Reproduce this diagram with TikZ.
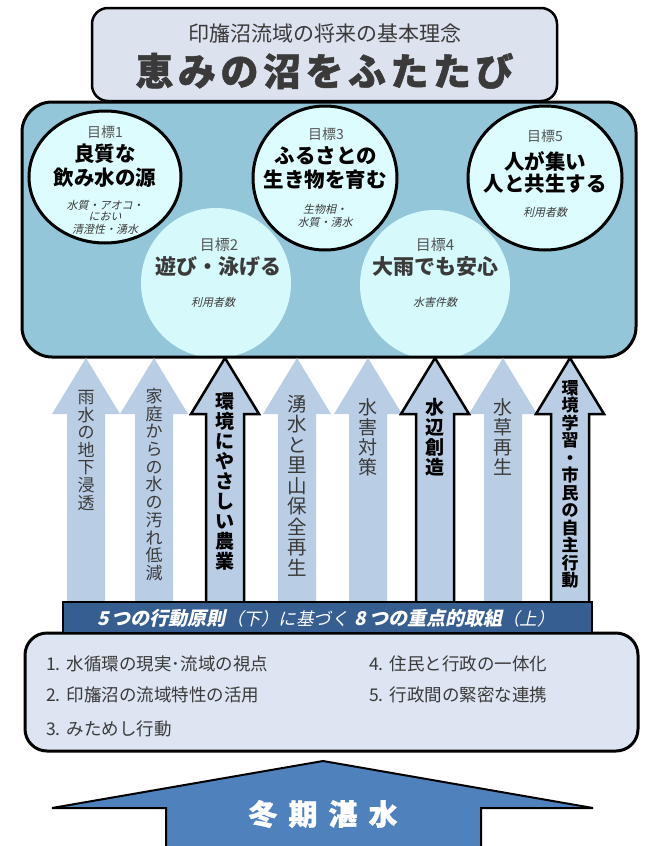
\documentclass[tikz,border=0pt]{standalone}
\usepackage{fontspec}
\setmainfont{Noto Sans CJK JP}
\newfontfamily\jpit[FakeSlant=0.22]{Noto Sans CJK JP}
\newfontfamily\jpheavy[FakeBold=1.2]{Noto Sans CJK JP}
\usetikzlibrary{shapes.geometric}
\definecolor{topfill}{HTML}{DCE3EE}
\definecolor{mainfill}{HTML}{93C6D8}
\definecolor{softcirc}{HTML}{D6FAFC}
\definecolor{goalfill}{HTML}{DDFCFE}
\definecolor{arrfill}{HTML}{B9CDE5}
\definecolor{boxfill}{HTML}{DCE5F1}
\definecolor{barblue}{HTML}{365E91}
\definecolor{arrblue}{HTML}{4F81BD}
\definecolor{darkgray}{HTML}{3A3A3A}
\definecolor{midgray}{HTML}{555555}
\tikzset{
  goalcirc/.style={draw=black, line width=3pt, fill=goalfill},
  lbl/.style={inner sep=0pt, text=midgray, font=\fontsize{14}{16}\selectfont},
  goalbig/.style={inner sep=0pt, text=black, font=\bfseries\fontsize{20.5}{22}\selectfont},
  goalsoft/.style={inner sep=0pt, text=darkgray, font=\bfseries\fontsize{21}{22}\selectfont},
  small/.style={inner sep=0pt, text=darkgray, font=\jpit\fontsize{11}{12}\selectfont},
  vtsoft/.style={anchor=north, align=center, inner sep=0pt, text=darkgray},
  vtbold/.style={anchor=north, align=center, inner sep=0pt, text=black},
  listtxt/.style={anchor=west, inner sep=0pt, text=darkgray, font=\fontsize{17.5}{19}\selectfont},
  paleArrow/.style={fill=arrfill},
  lineArrow/.style={fill=arrfill, draw=black, line width=2.5pt, line join=miter}
}
\begin{document}
\begin{tikzpicture}[x=1pt,y=-1pt]
\useasboundingbox (0,0) rectangle (648,846);
\fill[white] (0,0) rectangle (648,846);

% ---------- main goal box ----------
\fill[mainfill, rounded corners=30pt] (22,102) rectangle (636,357);
\begin{scope}
  \clip[rounded corners=30pt] (22,102) rectangle (636,357);
  \fill[softcirc] (216,283) circle[radius=75pt];
  \fill[softcirc] (435,285) circle[radius=75pt];
\end{scope}
\draw[line width=3pt, rounded corners=30pt] (22,102) rectangle (636,357);

\draw[goalcirc] (105,177) ellipse[x radius=76pt, y radius=66pt];
\draw[goalcirc] (325,178) circle[radius=72pt];
\draw[goalcirc] (545,178) ellipse[x radius=77pt, y radius=72pt];

% ---------- top box ----------
\draw[line width=2.5pt, fill=topfill, rounded corners=16pt] (92,8) rectangle (557,101);
\node[inner sep=0pt, text=darkgray, font=\fontsize{21}{24}\selectfont] (sub) at (324.5,34) {印旛沼流域の将来の基本理念};
\node[inner sep=0pt, text=darkgray, font=\jpheavy\bfseries\fontsize{38}{40}\selectfont] (title) at (324.5,71)
  {恵\kern4.5pt み\kern4.5pt の\kern4.5pt 沼\kern4.5pt を\kern4.5pt ふ\kern4.5pt た\kern4.5pt た\kern4.5pt び};

% ---------- goal texts ----------
\node[lbl] (g1a) at (105,132) {目標1};
\node[goalbig] (g1b) at (105,154) {良質な};
\node[goalbig] (g1c) at (105,178) {飲み水の源};
\node[small] (g1d) at (105,205) {水質・アオコ・};
\node[small] (g1e) at (105,216.5) {におい};
\node[small] (g1f) at (105,229) {清澄性・湧水};

\node[lbl] (g3a) at (326,134) {目標3};
\node[goalbig] (g3b) at (326,156) {ふるさとの};
\node[goalbig] (g3c) at (325,180) {生き物を育む};
\node[small] (g3d) at (325,209) {生物相・};
\node[small] (g3e) at (325,222) {水質・湧水};

\node[lbl] (g5a) at (545,136) {目標5};
\node[goalbig] (g5b) at (545,161) {人が集い};
\node[goalbig] (g5c) at (545,184) {人と共生する};
\node[small] (g5d) at (545,212) {利用者数};

\node[lbl, font=\fontsize{15}{17}\selectfont] (g2a) at (219,245) {目標2};
\node[goalsoft] (g2b) at (218,267) {遊び・泳げる};
\node[small] (g2c) at (213,302) {利用者数};

\node[lbl, font=\fontsize{15}{17}\selectfont] (g4a) at (435,245) {目標4};
\node[goalsoft] (g4b) at (435,267) {大雨でも安心};
\node[small] (g4c) at (435,302) {水害件数};

% ---------- upward arrows ----------
\foreach \x in {86,154,297,368,503}
  \fill[paleArrow] (\x,358) -- (\x+34,414) -- (\x+19,414) -- (\x+19,612) -- (\x-19,612) -- (\x-19,414) -- (\x-34,414) -- cycle;
\foreach \x in {225,435,570}
  \draw[lineArrow] (\x,358) -- (\x+34,414) -- (\x+19,414) -- (\x+19,612) -- (\x-19,612) -- (\x-19,414) -- (\x-34,414) -- cycle;

\node[vtsoft, font=\fontsize{17}{17.6}\selectfont] (a1) at (86,390) {雨\\水\\の\\地\\下\\浸\\透};
\node[vtsoft, font=\fontsize{17}{17.7}\selectfont] (a2) at (154,388) {家\\庭\\か\\ら\\の\\水\\の\\汚\\れ\\低\\減};
\node[vtbold, font=\bfseries\fontsize{19}{20}\selectfont] (a3) at (225,393) {環\\境\\に\\や\\さ\\し\\い\\農\\業};
\node[vtsoft, font=\fontsize{19.5}{20.5}\selectfont] (a4) at (297,395) {湧\\水\\と\\里\\山\\保\\全\\再\\生};
\node[vtsoft, font=\fontsize{19}{20}\selectfont] (a5) at (368,398) {水\\害\\対\\策};
\node[vtbold, font=\bfseries\fontsize{19}{20}\selectfont] (a6) at (435,398) {水\\辺\\創\\造};
\node[vtsoft, font=\fontsize{19}{20}\selectfont] (a7) at (503,398) {水\\草\\再\\生};
\node[vtbold, font=\bfseries\fontsize{17}{17.5}\selectfont] (a8) at (570,380) {環\\境\\学\\習\\・\\市\\民\\の\\自\\主\\行\\動};

% ---------- principles box ----------
\draw[line width=3pt, fill=boxfill, rounded corners=22pt] (25,633) rectangle (638,751);
\draw[line width=1.5pt, fill=barblue] (63,602) rectangle (592,633);
\node[inner sep=0pt, text=white, font=\jpit\fontsize{17.5}{19}\selectfont] (bar) at (326,618)
  {{\bfseries\fontsize{19}{20}\selectfont 5\kern3pt つの行動原則}（下）に基づく\kern6pt{\bfseries\fontsize{19}{20}\selectfont 8\kern3pt つの重点的取組}（上）};

\node[listtxt] (p1) at (46,664) {1.\kern6pt 水循環の現実･流域の視点};
\node[listtxt] (p2) at (46,695) {2.\kern6pt 印旛沼の流域特性の活用};
\node[listtxt] (p3) at (46,729) {3.\kern6pt みためし行動};
\node[listtxt] (p4) at (369,664) {4.\kern6pt 住民と行政の一体化};
\node[listtxt] (p5) at (369,695) {5.\kern6pt 行政間の緊密な連携};

% ---------- bottom arrow ----------
\draw[fill=arrblue, line width=2pt, line join=miter] (323,761) -- (593,808) -- (481,808) -- (481,850) -- (166,850) -- (166,808) -- (52,808) -- cycle;
\node[inner sep=0pt, text=white, font=\jpheavy\bfseries\fontsize{29}{30}\selectfont] (winter) at (323,814)
  {冬\kern11pt 期\kern11pt 湛\kern11pt 水};
\end{tikzpicture}
\end{document}
